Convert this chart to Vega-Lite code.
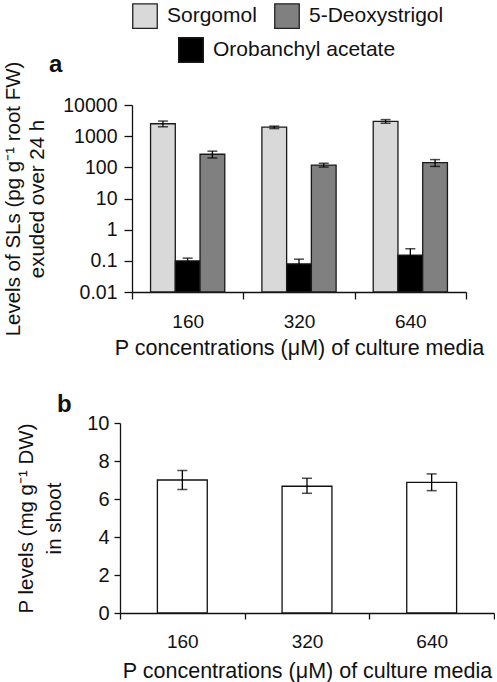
{
  "$schema": "https://vega.github.io/schema/vega-lite/v6.json",
  "padding": {"left": 3, "top": 3, "right": 0, "bottom": 0},
  "config": {
    "font": "Liberation Sans",
    "view": {"stroke": null},
    "axis": {"labelFont": "Liberation Sans", "titleFont": "Liberation Sans", "labelColor": "#111", "titleColor": "#111", "domainColor": "#111", "tickColor": "#111", "grid": false, "titleFontWeight": "normal", "labelFontSize": 19, "titleFontSize": 20.5, "domainWidth": 1.3, "tickWidth": 1.3, "labelOverlap": false},
    "title": {"font": "Liberation Sans", "fontSize": 24, "fontWeight": "bold", "anchor": "start", "frame": "group", "color": "#111"}
  },
  "datasets": {
    "sl": [
      {"P": "160", "compound": "Sorgomol", "value": 2500, "lo": 2000, "hi": 3050},
      {"P": "160", "compound": "Orobanchyl acetate", "value": 0.1, "lo": 0.08, "hi": 0.122},
      {"P": "160", "compound": "5-Deoxystrigol", "value": 263, "lo": 200, "hi": 330},
      {"P": "320", "compound": "Sorgomol", "value": 1950, "lo": 1750, "hi": 2100},
      {"P": "320", "compound": "Orobanchyl acetate", "value": 0.08, "lo": 0.05, "hi": 0.113},
      {"P": "320", "compound": "5-Deoxystrigol", "value": 118, "lo": 102, "hi": 135},
      {"P": "640", "compound": "Sorgomol", "value": 2980, "lo": 2600, "hi": 3400},
      {"P": "640", "compound": "Orobanchyl acetate", "value": 0.153, "lo": 0.06, "hi": 0.244},
      {"P": "640", "compound": "5-Deoxystrigol", "value": 142, "lo": 107, "hi": 177}
    ],
    "pl": [
      {"P": "160", "value": 7.0, "lo": 6.5, "hi": 7.5},
      {"P": "320", "value": 6.67, "lo": 6.3, "hi": 7.09},
      {"P": "640", "value": 6.88, "lo": 6.44, "hi": 7.32}
    ]
  },
  "spacing": 34,
  "vconcat": [
    {
      "data": {"name": "sl"},
      "width": 346,
      "height": 187,
      "title": {"text": "a", "dx": -71, "offset": -16},
      "encoding": {
        "x": {
          "field": "P", "type": "nominal", "sort": ["160", "320", "640"],
          "scale": {"range": [12, 346], "paddingInner": 0, "paddingOuter": 0},
          "axis": {"tickBand": "extent", "labelAngle": 0, "title": "P concentrations (μM) of culture media", "titleFontSize": 21.5, "tickSize": 7, "labelPadding": 13, "titlePadding": 6}
        },
        "xOffset": {
          "field": "compound", "type": "nominal",
          "scale": {"domain": ["Sorgomol", "Orobanchyl acetate", "5-Deoxystrigol"], "paddingOuter": 0.75, "paddingInner": 0}
        }
      },
      "layer": [
        {
          "mark": {"type": "bar", "strokeWidth": 1.3},
          "encoding": {
            "y": {
              "field": "value", "type": "quantitative", "stack": null,
              "scale": {"type": "log", "domain": [0.01, 10000], "nice": false},
              "axis": {"values": [0.01, 0.1, 1, 10, 100, 1000, 10000], "format": "~g", "offset": -12, "tickSize": 8, "labelPadding": 7, "labelFontSize": 19.5, "labelOverlap": false, "titlePadding": 15, "title": ["Levels of SLs (pg g⁻¹ root FW)", "exuded over 24 h"], "titleLineHeight": 24}
            },
            "y2": {"datum": 0.01},
            "fill": {
              "field": "compound", "type": "nominal",
              "scale": {"domain": ["Sorgomol", "Orobanchyl acetate", "5-Deoxystrigol"], "range": ["#d9d9d9", "#000000", "#808080"]},
              "legend": {
                "values": ["Sorgomol", "5-Deoxystrigol"], "title": null, "orient": "none", "legendX": 12, "legendY": -102,
                "direction": "horizontal", "symbolType": "square", "symbolSize": 600, "labelFontSize": 21, "labelFont": "Liberation Sans", "labelColor": "#111", "labelLimit": 300,
                "labelOffset": 9, "columnPadding": 15, "padding": 0,
                "encode": {"symbols": {"update": {"stroke": {"value": "#222"}, "strokeWidth": {"value": 1.3}}}}
              }
            },
            "stroke": {
              "field": "compound", "type": "nominal",
              "scale": {"domain": ["Orobanchyl acetate", "Sorgomol", "5-Deoxystrigol"], "range": ["#1a1a1a", "#1a1a1a", "#1a1a1a"]},
              "legend": {
                "values": ["Orobanchyl acetate"], "title": null, "orient": "none", "legendX": 58, "legendY": -68,
                "direction": "horizontal", "symbolType": "square", "symbolSize": 600, "labelFontSize": 21, "labelFont": "Liberation Sans", "labelColor": "#111", "labelLimit": 300,
                "labelOffset": 9, "padding": 0,
                "encode": {"symbols": {"update": {"fill": {"value": "#000000"}, "stroke": {"value": "#222"}, "strokeWidth": {"value": 1.3}}}}
              }
            }
          }
        },
        {
          "mark": {"type": "rule", "color": "#000", "strokeWidth": 1.3},
          "encoding": {
            "y": {"field": "lo", "type": "quantitative"},
            "y2": {"field": "hi"}
          }
        },
        {
          "mark": {"type": "tick", "color": "#000", "thickness": 1.5, "size": 10},
          "encoding": {"y": {"field": "hi", "type": "quantitative"}}
        },
        {
          "mark": {"type": "tick", "color": "#000", "thickness": 1.5, "size": 10},
          "encoding": {"y": {"field": "lo", "type": "quantitative"}}
        }
      ]
    },
    {
      "data": {"name": "pl"},
      "width": 374,
      "height": 190,
      "title": {"text": "b", "dx": -63, "offset": -4},
      "encoding": {
        "x": {
          "field": "P", "type": "nominal", "sort": ["160", "320", "640"],
          "scale": {"paddingInner": 0, "paddingOuter": 0},
          "axis": {"tickBand": "extent", "labelAngle": 0, "title": "P concentrations (μM) of culture media", "titleFontSize": 21.5, "tickSize": 6, "labelPadding": 13, "titlePadding": 9}
        }
      },
      "layer": [
        {
          "mark": {"type": "bar", "fill": "#ffffff", "stroke": "#111", "strokeWidth": 1.3, "width": {"band": 0.4}},
          "encoding": {
            "y": {
              "field": "value", "type": "quantitative",
              "scale": {"domain": [0, 10], "nice": false},
              "axis": {"values": [0, 2, 4, 6, 8, 10], "labelOverlap": false, "tickCount": 6, "tickSize": 6, "labelPadding": 5, "labelFontSize": 20, "titlePadding": 22, "title": ["P levels (mg g⁻¹ DW)", "in shoot"], "titleLineHeight": 28}
            }
          }
        },
        {
          "mark": {"type": "rule", "color": "#000", "strokeWidth": 1.3},
          "encoding": {
            "y": {"field": "lo", "type": "quantitative", "axis": {"values": [0, 2, 4, 6, 8, 10], "labelOverlap": false, "tickCount": 6}},
            "y2": {"field": "hi"}
          }
        },
        {
          "mark": {"type": "tick", "color": "#000", "thickness": 1.5, "size": 10},
          "encoding": {"y": {"field": "hi", "type": "quantitative", "axis": {"values": [0, 2, 4, 6, 8, 10], "labelOverlap": false, "tickCount": 6}}}
        },
        {
          "mark": {"type": "tick", "color": "#000", "thickness": 1.5, "size": 10},
          "encoding": {"y": {"field": "lo", "type": "quantitative", "axis": {"values": [0, 2, 4, 6, 8, 10], "labelOverlap": false, "tickCount": 6}}}
        }
      ]
    }
  ]
}
